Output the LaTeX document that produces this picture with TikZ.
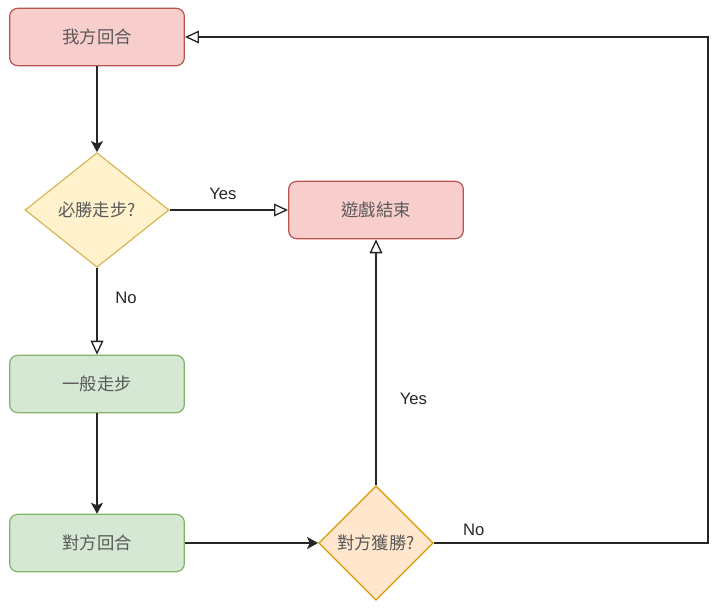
\documentclass[tikz,border=0pt]{standalone}
\usepackage{fontspec}
\setmainfont{Liberation Sans}
\newfontfamily\cjk{Noto Sans CJK TC}
\usetikzlibrary{shapes.geometric,arrows.meta}
\definecolor{redf}{HTML}{F8CECC}
\definecolor{redd}{HTML}{B85450}
\definecolor{yelf}{HTML}{FFF2CC}
\definecolor{yeld}{HTML}{D6B656}
\definecolor{grnf}{HTML}{D5E8D4}
\definecolor{grnd}{HTML}{82B366}
\definecolor{orgf}{HTML}{FFE6CC}
\definecolor{orgd}{HTML}{D79B00}
\begin{document}
\begin{tikzpicture}[x=0.75pt,y=-0.75pt]%
  \tikzstyle{boxn}=[rectangle,rounded corners=6pt,line width=0.9pt,minimum width=131pt,minimum height=43pt,text=black!65,font=\cjk\fontsize{13}{15}\selectfont]
  \tikzstyle{dian}=[diamond,aspect=1,inner sep=0pt,line width=0.9pt,text=black!65,font=\cjk\fontsize{13}{15}\selectfont]
  \tikzstyle{lbl}=[text=black!85,font=\fontsize{12.5}{14}\selectfont]
  \tikzstyle{blk}=[draw=black!85,line width=1pt,-{Stealth[length=8.25pt,width=9pt,inset=2pt]}]
  \tikzstyle{opn}=[draw=black!85,line width=1pt,-{Triangle[open,length=10.5pt,width=9.5pt,fill=white]}]
  \useasboundingbox (0,0) rectangle (728,614);
  \node(mine)[boxn,draw=redd,fill=redf] at (97,37) {我方回合};
  \node(win)[dian,draw=yeld,fill=yelf,minimum width=108pt,minimum height=86pt,aspect=1.25] at (97,210) {必勝走步?};
  \node(end)[boxn,draw=redd,fill=redf] at (376,210) {遊戲結束};
  \node(normal)[boxn,draw=grnd,fill=grnf] at (97,384) {一般走步};
  \node(opp)[boxn,draw=grnd,fill=grnf] at (97,543) {對方回合};
  \node(lose)[dian,draw=orgd,fill=orgf,minimum width=86pt,minimum height=86pt] at (376,543) {對方獲勝?};
  \coordinate(turn) at (708,543);
  \draw[blk] (mine) -- (win);
  \draw[opn] (win) -- node[lbl,above=4pt,pos=0.45]{Yes} (end);
  \draw[opn] (win) -- node[lbl,right=10pt,pos=0.35]{No} (normal);
  \draw[blk] (normal) -- (opp);
  \draw[blk] (opp) -- (lose);
  \draw[opn] (lose) -- node[lbl,right=14pt,pos=0.35]{Yes} (end);
  \draw[opn] (lose) -- node[lbl,above=2pt,pos=0.145]{No} (turn) |- (mine);
\end{tikzpicture}
\end{document}
